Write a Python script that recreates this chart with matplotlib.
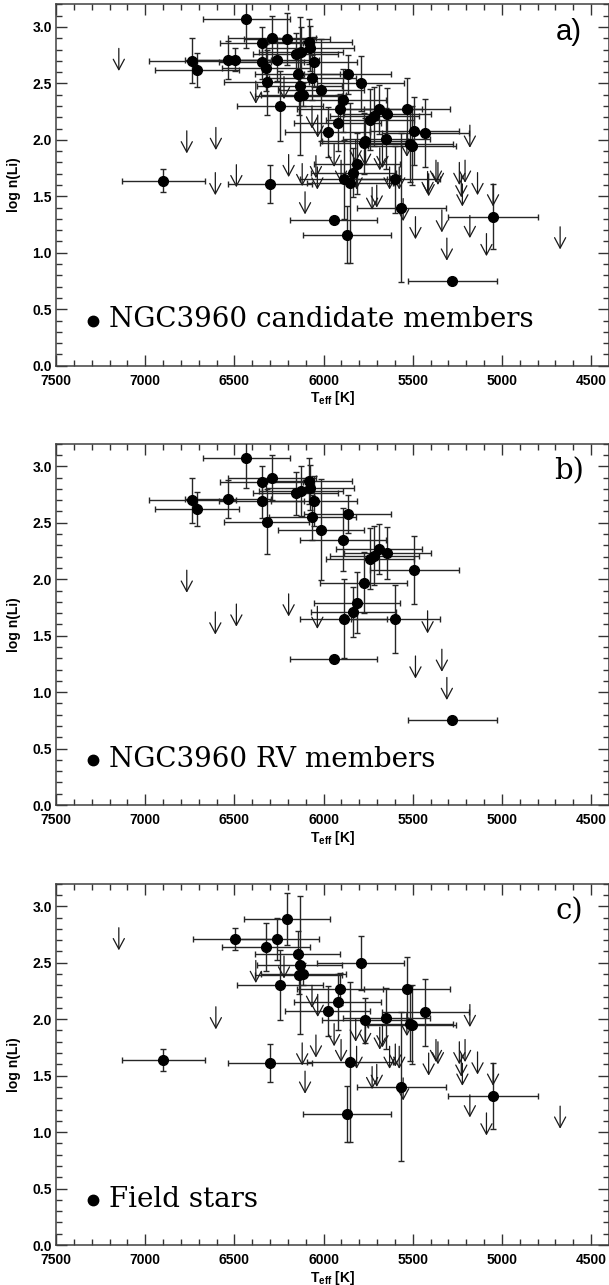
import matplotlib
matplotlib.use("Agg")
import matplotlib.pyplot as plt
from matplotlib.ticker import MultipleLocator
import numpy as np

plt.rcParams['mathtext.fontset'] = 'custom'
plt.rcParams['mathtext.rm'] = 'Liberation Sans:bold'
plt.rcParams['mathtext.it'] = 'Liberation Sans:bold'
plt.rcParams['mathtext.bf'] = 'Liberation Sans:bold'

# RV members: detections
mem_teff = [6433, 6735, 6711, 6537, 6348, 6348, 6289, 6320, 6157, 6128,
            6080, 6076, 6054, 6063, 6013, 5865, 5891, 5739, 5715, 5691,
            5643, 5491, 5776, 5813, 5833, 5887, 5598, 5943, 5278]
mem_li = [3.07, 2.70, 2.62, 2.71, 2.86, 2.69, 2.90, 2.51, 2.76, 2.78,
          2.87, 2.81, 2.69, 2.55, 2.44, 2.58, 2.35, 2.18, 2.21, 2.27,
          2.23, 2.08, 1.97, 1.79, 1.71, 1.65, 1.65, 1.29, 0.75]
mem_dteff = [242, 245, 235, 240, 235, 240, 245, 240, 240, 235,
             240, 245, 240, 245, 240, 245, 240, 245, 250, 240,
             245, 250, 245, 240, 240, 245, 250, 245, 250]
mem_dli = [0.26, 0.20, 0.15, 0.17, 0.14, 0.15, 0.20, 0.29, 0.19, 0.22,
           0.20, 0.20, 0.22, 0.20, 0.45, 0.17, 0.28, 0.27, 0.26, 0.22,
           0.23, 0.30, 0.27, 0.27, 0.22, 0.35, 0.30, 0.0, 0.0]
# RV members: upper limits
mem_lim_teff = [6767, 6607, 6489, 6196, 6035, 5417, 5485, 5337, 5309]
mem_lim_li = [2.08, 1.71, 1.78, 1.87, 1.76, 1.72, 1.32, 1.38, 1.13]

# field stars: detections
fld_teff = [6898, 6300, 6496, 6322, 6263, 6204, 6246, 6146, 6135, 6140,
            6113, 5793, 5909, 5922, 5978, 5852, 5867, 5767, 5648, 5533,
            5504, 5517, 5430, 5565, 5050]
fld_li = [1.64, 1.61, 2.71, 2.64, 2.71, 2.89, 2.30, 2.58, 2.48, 2.39,
          2.40, 2.50, 2.27, 2.15, 2.07, 1.62, 1.16, 1.99, 2.01, 2.27,
          1.95, 1.96, 2.06, 1.40, 1.32]
fld_dteff = [232, 237, 235, 245, 240, 242, 241, 240, 240, 245,
             240, 245, 240, 245, 240, 240, 246, 240, 245, 240,
             245, 240, 245, 250, 253]
fld_dli = [0.10, 0.17, 0.10, 0.21, 0.19, 0.23, 0.31, 0.20, 0.61, 0.17,
           0.10, 0.24, 0.14, 0.25, 0.22, 0.71, 0.25, 0.20, 0.27, 0.28,
           0.35, 0.33, 0.30, 0.66, 0.29]
# field stars: upper limits
fld_lim_teff = [7148, 6604, 6380, 6222, 6120, 6104, 6065, 6043, 6033, 5941,
                5902, 5820, 5815, 5767, 5728, 5702, 5685, 5670, 5630, 5598,
                5576, 5554, 5533, 5411, 5370, 5359, 5239, 5222, 5207, 5228,
                5180, 5137, 5180, 5087, 5050, 4674]
fld_lim_li = [2.81, 2.11, 2.52, 2.56, 1.79, 1.54, 2.30, 1.86, 2.22, 1.96,
              1.82, 2.00, 1.76, 1.97, 1.58, 1.60, 1.93, 1.95, 1.76, 1.78,
              1.76, 1.48, 2.05, 1.70, 1.82, 1.80, 1.80, 1.61, 1.82, 1.69,
              2.13, 1.71, 1.33, 1.17, 1.61, 1.23]

arrow_len = 0.2

samples = [
    ("a)", "NGC3960 candidate members", True, True, "Liberation Sans"),
    ("b)", "NGC3960 RV members", True, False, "DejaVu Serif"),
    ("c)", "Field stars", False, True, "DejaVu Serif"),
]
bottoms = [0.7154, 0.3735, 0.0311]

fig = plt.figure(figsize=(6.09, 12.85), dpi=100)


def draw_set(ax, teff, li, dteff, dli, lim_teff, lim_li):
    ax.errorbar(teff, li, xerr=dteff, yerr=dli, fmt='o', ms=7,
                mfc='black', mec='black', ecolor='0.15', elinewidth=1.0,
                capsize=2, capthick=1.0, zorder=3)
    for t, l in zip(lim_teff, lim_li):
        ax.annotate('', xy=(t, l - arrow_len), xytext=(t, l),
                    arrowprops=dict(arrowstyle='->,head_length=0.75,head_width=0.4',
                                    lw=0.9, color='0.1',
                                    shrinkA=0, shrinkB=0))


for (tag, label, use_mem, use_fld, tagfont), b in zip(samples, bottoms):
    ax = fig.add_axes([0.092, b, 0.908, 0.2812])
    if use_mem:
        draw_set(ax, mem_teff, mem_li, mem_dteff, mem_dli, mem_lim_teff, mem_lim_li)
    if use_fld:
        draw_set(ax, fld_teff, fld_li, fld_dteff, fld_dli, fld_lim_teff, fld_lim_li)

    ax.set_xlim(7500, 4400)
    ax.set_ylim(0, 3.2)
    ax.xaxis.set_major_locator(MultipleLocator(500))
    ax.xaxis.set_minor_locator(MultipleLocator(100))
    ax.yaxis.set_major_locator(MultipleLocator(0.5))
    ax.yaxis.set_minor_locator(MultipleLocator(0.1))
    ax.yaxis.set_major_formatter(plt.FormatStrFormatter('%.1f'))
    ax.tick_params(which='both', direction='in', top=True, right=True,
                   color='0.2', width=1.0)
    ax.tick_params(which='major', length=8)
    ax.tick_params(which='minor', length=4)
    ax.tick_params(axis='x', pad=6)
    ax.tick_params(axis='y', pad=3)
    for lab in ax.get_xticklabels() + ax.get_yticklabels():
        lab.set_fontfamily('Liberation Sans')
        lab.set_fontweight('bold')
        lab.set_fontsize(10)
    for sp in ax.spines.values():
        sp.set_color('0.25')
        sp.set_linewidth(1.1)

    ax.set_xlabel(r'T$_{\rm eff}$ [K]', fontfamily='Liberation Sans',
                  fontweight='bold', fontsize=10, labelpad=1)
    ax.set_ylabel('log n(Li)', fontfamily='Liberation Sans',
                  fontweight='bold', fontsize=10, labelpad=8)

    ax.text(0.928, 0.923, tag, transform=ax.transAxes, ha='center',
            va='center', fontsize=21, fontfamily=tagfont)
    ax.plot([0.067], [0.125], 'o', ms=7.5, color='black',
            transform=ax.transAxes, clip_on=False)
    ax.text(0.096, 0.106, label, transform=ax.transAxes, ha='left',
            va='baseline', fontsize=20, fontfamily='DejaVu Serif')

fig.savefig('out.png', dpi=100)
